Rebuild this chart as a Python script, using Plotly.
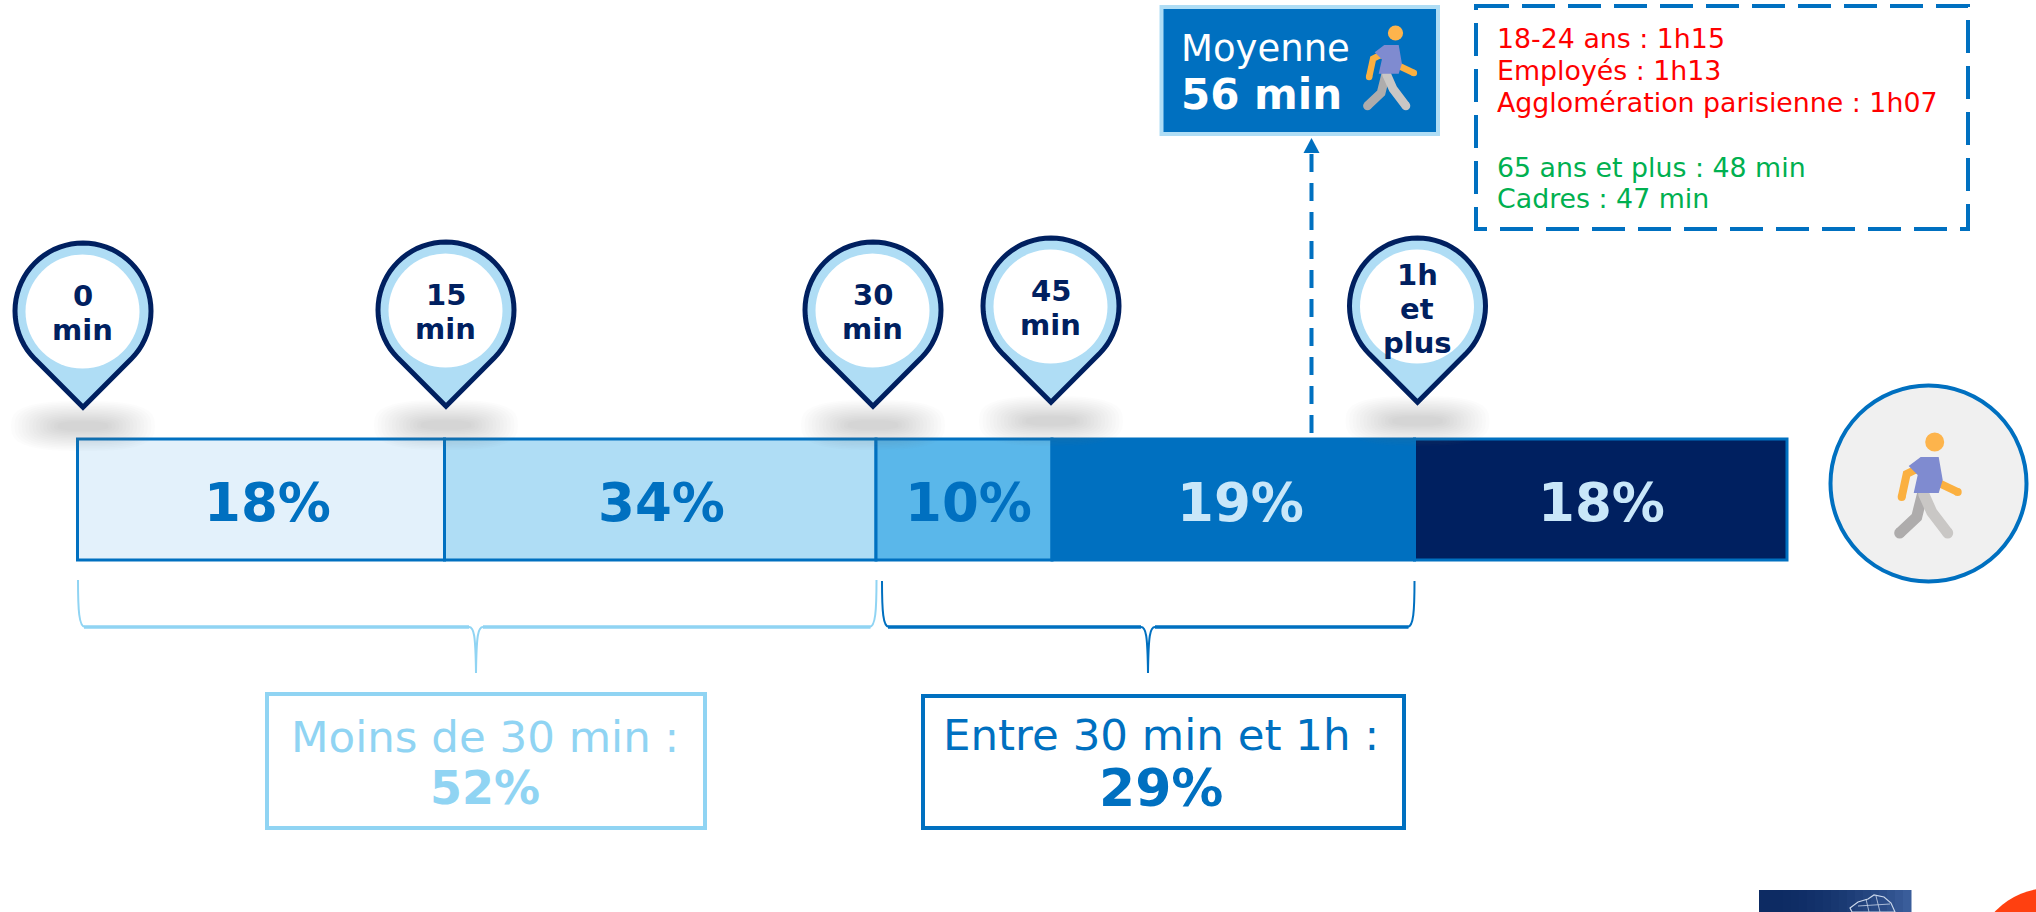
import math
import plotly.graph_objects as go

# ---------- data ----------
time_labels = ["0<br>min", "15<br>min", "30<br>min", "45<br>min", "1h<br>et<br>plus"]
share_percent = [18, 34, 10, 19, 18]
group_titles = ["Moins de 30 min :", "Entre 30 min et 1h :"]
group_percent = [52, 29]
average_title = "Moyenne"
average_value = "56 min"
above_average = ["18-24 ans : 1h15", "Employés : 1h13", "Agglomération parisienne : 1h07"]
below_average = ["65 ans et plus : 48 min", "Cadres : 47 min"]

# ---------- layout geometry (canvas units) ----------
W, H = 2036, 912
BAR_EDGES = [77.5, 444.5, 876, 1052, 1414.5, 1787]
BAR_Y0, BAR_Y1 = 439, 560
LABEL_X = [267, 661, 968, 1240, 1601]
LABEL_COL = ["#0070C0", "#0070C0", "#0070C0", "#C9E7F9", "#C9E7F9"]
SEG_COL = ["#E3F1FB", "#AFDDF5", "#5AB7EA", "#0070C0", "#002060"]
PIN_XY = [(83, 311), (446, 310), (873, 310), (1051, 306), (1417.5, 306)]
BLUE, PALE, NAVY, SKY = "#0070C0", "#AFDDF5", "#002060", "#90D4F3"
FONT = "DejaVu Sans"

shapes, notes = [], []


def rect(x0, y0, x1, y1, fill="rgba(0,0,0,0)", line=None, lw=0, dash=None):
    shapes.append(dict(type="rect", x0=x0, y0=y0, x1=x1, y1=y1, fillcolor=fill,
                       line=dict(color=line or "rgba(0,0,0,0)", width=lw, dash=dash), layer="above"))


def circle(cx, cy, rx, ry=None, fill="#fff", line=None, lw=0):
    ry = rx if ry is None else ry
    shapes.append(dict(type="circle", x0=cx - rx, x1=cx + rx, y0=cy - ry, y1=cy + ry, fillcolor=fill,
                       line=dict(color=line or "rgba(0,0,0,0)", width=lw), layer="above"))


def path(d, fill="rgba(0,0,0,0)", line=None, lw=0, dash=None, op=None):
    s = dict(type="path", path=d, fillcolor=fill,
             line=dict(color=line or "rgba(0,0,0,0)", width=lw, dash=dash), layer="above")
    if op is not None:
        s["opacity"] = op
    shapes.append(s)


def text(x, y, s, size, color, bold=False, anchor="center"):
    notes.append(dict(x=x, y=y, xref="x", yref="y", text=f"<b>{s}</b>" if bold else s,
                      showarrow=False, xanchor=anchor, yanchor="middle",
                      font=dict(family=FONT, size=size, color=color)))


def blur_patch(cx, cy, hw, hh):
    # rounded rectangle (superellipse) used as one layer of a soft shadow
    pts = []
    for deg in range(0, 360, 10):
        a = math.radians(deg)
        c, s = math.cos(a), math.sin(a)
        pts.append(f"{cx + hw * abs(c) ** 0.7 * (1 if c >= 0 else -1):.2f} "
                   f"{cy + hh * abs(s) ** 0.7 * (1 if s >= 0 else -1):.2f}")
    path("M " + " L ".join(pts) + " Z", fill="#808080", op=0.022)


def pin(cx, cy, label):
    for i in range(14):
        f = 1 - i / 14
        blur_patch(cx, cy + 115, 22 + 50 * f, 3 + 22 * f)
    r = 68
    pts = [(cx, cy + r * math.sqrt(2))]
    for deg in range(135, 406, 5):
        a = math.radians(deg)
        pts.append((cx + r * math.cos(a), cy + r * math.sin(a)))
    d = "M " + " L ".join(f"{x:.2f} {y:.2f}" for x, y in pts) + " Z"
    path(d, fill=PALE, line=NAVY, lw=5)
    circle(cx - 0.5, cy + 0.5, 57, fill="#FFFFFF")
    lines = label.split("<br>")
    top = cy + 3 - (len(lines) - 1) * 17 - (1 if len(lines) == 2 else 0)
    for i, ln in enumerate(lines):
        text(cx - 0.5, top + i * 34, ln, 29, NAVY, bold=True)


def limb(pts, color, lw):
    d = "M " + " L ".join(f"{x:.2f} {y:.2f}" for x, y in pts)
    path(d, line=color, lw=lw)
    for x, y in (pts[0], pts[-1]):
        circle(x, y, lw / 2, fill=color)


def walker(hx, hy, s):
    P = lambda dx, dy: (hx + dx * s, hy + dy * s)
    limb([P(-12, 51), P(-18, 75), P(-35, 91)], "#AEACAC", 11 * s)
    limb([P(-11, 52), P(-3, 70), P(13, 91)], "#C9C7C5", 11 * s)
    limb([P(-20, 28), P(-28, 32), P(-33, 55)], "#FBB040", 8 * s)
    limb([P(2, 40), P(23, 50)], "#FBB040", 8 * s)
    pts = [P(-26, 24), P(-14, 15), P(4, 15), P(8, 38), P(4, 51), P(-21, 51), P(-17, 33)]
    path("M " + " L ".join(f"{x:.2f} {y:.2f}" for x, y in pts) + " Z", fill="#7F8BD0")
    circle(hx, hy, 9.5 * s, fill="#FDB44C")


def brace(x0, xm, x1, top, mid, low, color):
    # thin outline for ends and stem, heavier stroke along the horizontal run
    d = (f"M {x0} {top} C {x0} {top + 30} {x0 + 1} {mid} {x0 + 7} {mid} L {xm - 7} {mid} "
         f"C {xm - 2} {mid} {xm - 0.5} {mid + 8} {xm} {low} "
         f"C {xm + 0.5} {mid + 8} {xm + 2} {mid} {xm + 7} {mid} L {x1 - 7} {mid} "
         f"C {x1 - 1} {mid} {x1} {top + 30} {x1} {top}")
    path(d, line=color, lw=2)
    path(f"M {x0 + 6} {mid} L {xm - 7} {mid} M {xm + 7} {mid} L {x1 - 6} {mid}", line=color, lw=3.5)


# ---------- stacked bar ----------
fig = go.Figure()
for i, pct in enumerate(share_percent):
    fig.add_trace(go.Bar(
        y=[(BAR_Y0 + BAR_Y1) / 2], x=[BAR_EDGES[i + 1] - BAR_EDGES[i]], base=[BAR_EDGES[i]],
        width=[BAR_Y1 - BAR_Y0], orientation="h", name=f"{pct}%",
        marker=dict(color=SEG_COL[i], line=dict(color=BLUE, width=3)),
        hoverinfo="skip", showlegend=False))
    text(LABEL_X[i], 502, f"{pct}%", 53, LABEL_COL[i], bold=True)

# pins
for (cx, cy), lab in zip(PIN_XY, time_labels):
    pin(cx, cy, lab)

# average box + arrow
rect(1161.5, 7, 1438, 134, fill=BLUE, line=PALE, lw=4)
text(1179, 48, average_title, 37, "#FFFFFF", anchor="left")
text(1179, 94, average_value, 42, "#FFFFFF", bold=True, anchor="left")
walker(1395.5, 33, 0.8)
shapes.append(dict(type="line", x0=1311.5, x1=1311.5, y0=433, y1=153,
                   line=dict(color=BLUE, width=4, dash="18px,11px"), layer="above"))
path("M 1311.5 138 L 1319.5 153 L 1303.5 153 Z", fill=BLUE)

# dashed detail box
rect(1476, 6, 1968, 229, line=BLUE, lw=4, dash="33px,13px")
for y, s in zip([38, 70, 102.5], above_average):
    text(1495, y, s, 26.8, "#FF0000", anchor="left")
for y, s in zip([167, 198.5], below_average):
    text(1495, y, s, 26.8, "#00B050", anchor="left")

# right-hand walker
circle(1928.5, 483.5, 98, fill="#F0F0F0", line=BLUE, lw=4)
walker(1934.7, 442, 1.0)

# braces and summary boxes
brace(78, 476, 876.5, 580, 627, 673, SKY)
brace(882, 1148, 1414.5, 581, 627, 673, BLUE)
rect(267, 694, 705, 828, fill="#FFFFFF", line=SKY, lw=4)
text(485, 737, group_titles[0], 43.5, SKY)
text(485, 788, f"{group_percent[0]}%", 46, SKY, bold=True)
rect(923, 696, 1404, 828, fill="#FFFFFF", line=BLUE, lw=4)
text(1161, 735, group_titles[1], 43.5, BLUE)
text(1161, 788, f"{group_percent[1]}%", 52, BLUE, bold=True)

# cropped logos at the bottom edge
for i in range(19):
    t = i / 18
    col = f"rgb({int(13 + 45 * t * t)},{int(43 + 50 * t * t)},{int(99 + 55 * t * t)})"
    rect(1759 + 8 * i, 890, 1759 + 8 * (i + 1) + 0.5, 912, fill=col)
path("M 1850 908 L 1858 902 L 1868 899 L 1874 895 L 1884 897 L 1891 903 L 1895 912 L 1852 912 Z",
     line="#C9D6EA", lw=1.2)
path("M 1866 899 L 1869 912 M 1876 896 L 1880 912 M 1858 906 L 1890 904", line="#C9D6EA", lw=0.8)
circle(2050, 964, 76, fill="#FF4010")

fig.update_layout(
    width=W, height=H, autosize=False, margin=dict(l=0, r=0, t=0, b=0),
    paper_bgcolor="#FFFFFF", plot_bgcolor="#FFFFFF", barmode="overlay",
    xaxis=dict(range=[0, W], visible=False, fixedrange=True),
    yaxis=dict(range=[H, 0], visible=False, fixedrange=True),
    shapes=shapes, annotations=notes, hovermode=False, font=dict(family=FONT),
)
fig.write_html("out.html", config={"displayModeBar": False},
               post_script="document.body.style.margin='0';document.body.style.overflow='hidden';")
